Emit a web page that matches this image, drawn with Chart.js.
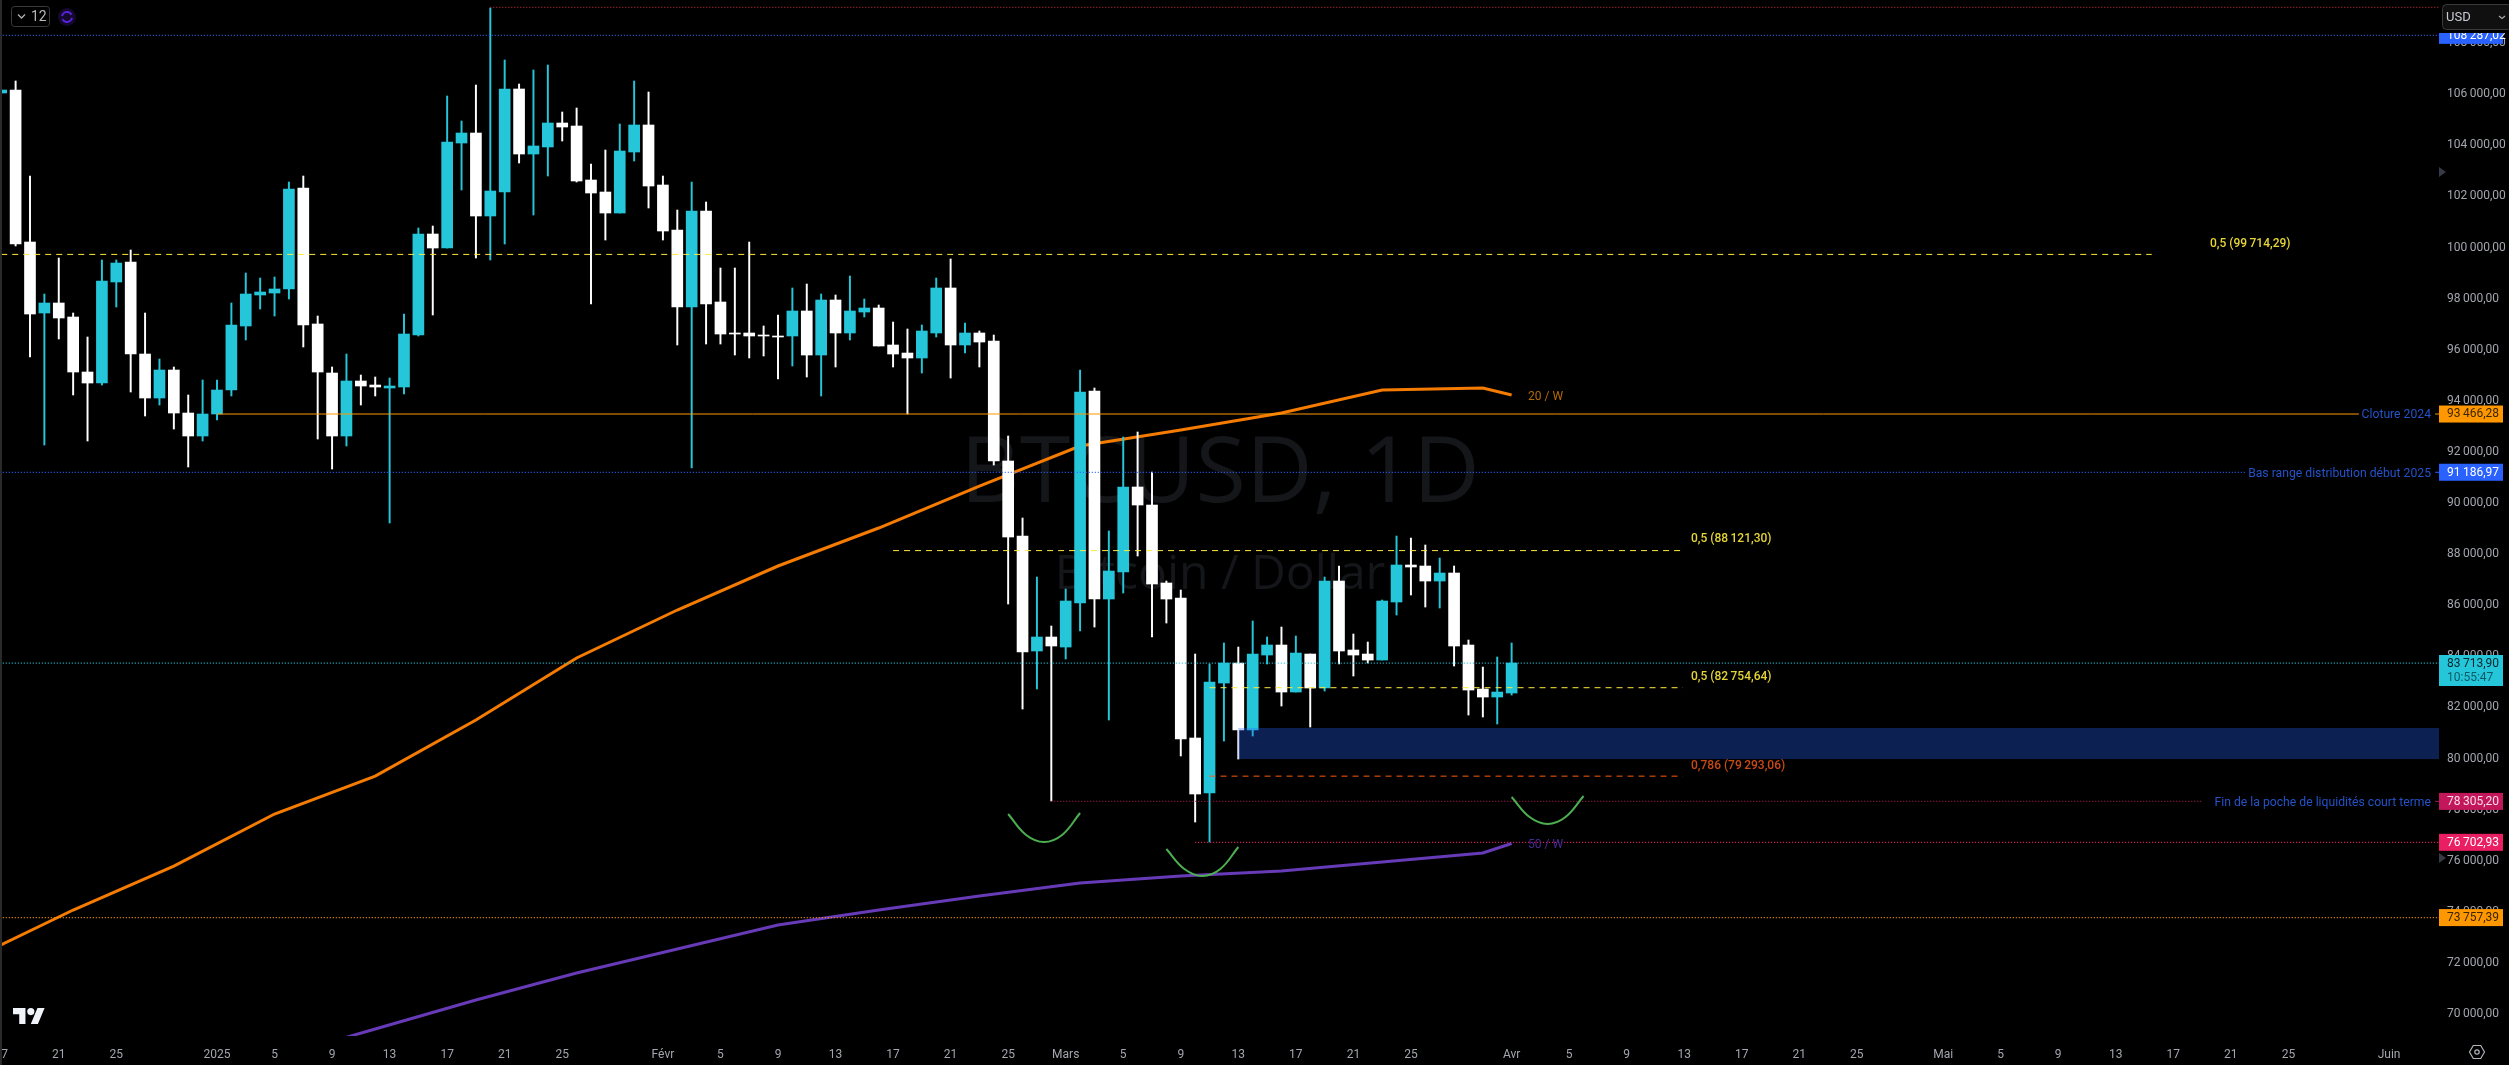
<!DOCTYPE html>
<html lang="fr"><head><meta charset="utf-8"><title>BTCUSD, 1D</title>
<script src="https://cdn.jsdelivr.net/npm/chart.js@4"></script>
<style>html,body{margin:0;padding:0;background:#000;overflow:hidden}#w{position:relative;width:2509px;height:1065px}canvas{display:block}</style>
</head><body><div id="w"><canvas id="c" width="2509" height="1065"></canvas></div>
<script>
// day index: 0 = 1 Jan 2025; one entry per day starting at firstDay
const firstDay = -15;
const ohlcHigh = [
106148,106501,102782,98164,99573,97420,96481,99495,99495,99886,
97420,95620,95307,94211,94798,94798,97812,98986,98790,98829,
102547,102782,97303,95307,95815,94993,94915,94876,97381,100747,
100825,105914,104935,106344,109358,107323,106383,106931,107127,105287,
105444,103252,103800,104818,106501,106070,102782,101451,102547,101765,
99182,99182,100199,96912,97342,98399,98555,98164,98125,98868,
97968,97733,97068,96794,96951,98790,99534,97029,96716,96559,
92606,89396,87087,85169,86617,95189,94485,88888,92567,92763,
91197,86930,86578,84073,83682,84504,84347,85365,84739,85130,
84778,84073,87087,87518,84856,84543,86187,88691,88613,88340,
87830,87518,84621,83564,83956,84504];
const bodyTop = [
106148,106148,100199,97812,97812,97264,95111,98673,99377,99416,
95815,95189,95189,93506,93467,94406,96951,98164,98242,98360,
102273,102313,96990,95072,94759,94759,94602,94563,96598,100512,
100512,104113,104465,104465,102195,106188,106188,103957,104857,104857,
104739,102626,102156,103761,104779,104779,102430,100669,101412,101412,
97851,96638,96638,96559,96520,97499,97499,97929,97929,97499,
97616,97616,96168,95854,96716,98399,98399,96638,96638,96324,
91628,88692,84739,84739,86148,94328,94367,87322,90610,90610,
89905,86853,86265,80786,82977,83721,83721,84073,84426,84426,
84112,84073,86930,86930,84230,84073,86148,87557,87557,87518,
87244,87244,84426,82703,82586,83721];
const bodyBottom = [
106031,100121,97381,97420,97225,95111,94680,94680,98634,95815,
94093,94093,93506,92606,92606,93467,94406,96912,98125,98203,
98360,96951,95111,92606,92606,94563,94524,94485,94524,96559,
99964,99964,104074,101217,101217,102156,103643,103643,103918,104700,
102587,102117,101334,101334,103722,102391,100630,97655,97655,97772,
96598,96598,96520,96520,96481,96520,95776,95776,96638,96638,
97459,96129,95815,95659,95659,96638,96168,96168,96285,91628,
88653,84152,84191,84387,84347,86069,86226,86226,87282,89905,
86813,86226,80747,78594,78633,82938,81099,81099,84034,82586,
82586,82743,82743,84191,84034,83838,83838,86109,87479,86930,
86930,84387,82664,82390,82390,82547];
const ohlcLow = [
106031,100043,95698,92254,96403,94211,92410,94602,97655,94328,
93389,93819,92880,91393,92410,93232,94172,96364,97577,97303,
97968,96090,92488,91314,92215,93819,94172,89201,94250,96520,
97342,99964,102234,99573,99495,100121,103291,101256,102782,104152,
102547,97772,100277,101334,103369,101530,100277,96168,91353,96207,
96207,95776,95659,95737,94837,95346,94915,94172,95307,96364,
97264,96129,95307,93467,95072,96481,94876,95854,95307,91471,
86030,81920,82703,78320,83878,84973,85130,81490,86461,87909,
84739,85287,80082,77498,76715,80668,79963,80864,83682,82038,
82586,81216,82625,83682,83212,83721,83838,85600,86383,85913,
85874,83604,81685,81607,81333,82468];
// days on which the candle closed above its open (cyan); all others are white
const risingDays = [-15,-12,-8,-7,-4,-1,0,1,2,3,4,5,9,12,13,14,16,17,19,20,22,23,28,29,33,40,42,44,45,49,50,52,57,59,60,62,63,69,70,72,73,75,77,81,82,85,89,90];
const maDays = [-17,-10,-3,4,11,18,25,32,39,46,53,60,67,74,81,88,90];
const ma20w = [72151,74054,75775,77811,79298,81490,83917,85796,87518,89005,90649,92215,92841,93506,94406,94485,94211];
const ma50wDays = [4,11,18,25,32,39,46,53,60,67,74,81,88,90];
const ma50w = [68260,69397,70531,71588,72527,73467,74054,74601,75110,75385,75580,75932,76284,76657];
const priceTicks = [70000,72000,74000,76000,78000,80000,82000,84000,86000,88000,90000,92000,94000,96000,98000,100000,102000,104000,106000,108000];
const tickDays = [-15,-11,-7,0,4,8,12,16,20,24,31,35,39,43,47,51,55,59,63,67,71,75,79,83,90,94,98,102,106,110,114,120,124,128,132,136,140,144,151];
const tickLabels = ['17','21','25','2025','5','9','13','17','21','25','Févr','5','9','13','17','21','25','Mars','5','9','13','17','21','25','Avr','5','9','13','17','21','25','Mai','5','9','13','17','21','25','Juin'];
// horizontal levels: value, from day, to day, colour, dash
const levelValues = [109384,108287.02,99714.29,93466.28,91186.97,88121.30,83713.90,82754.64,79293.06,78305.20,76702.93,73757.39,93466.28,91186.97,78305.20];
const levelFrom =   [19,-15.1,-15,0,-15.1,47,-15.1,69,69,58,68,-15.1,154.2,154.2,154.2];
const levelTo =     [154.5,154.5,134.5,148.9,141,101.9,154.5,101.9,101.9,138,154.5,154.5,154.5,154.5,154.5];
const levelColor =  ['#b32a36','#3560e8','#ffeb3b','#ff9800','#2962ff','#ffeb3b','#26c6da','#ffeb3b','#ff5a0a','#a01c48','#f0206a','#ff9800','#ff9800','#2962ff','#a01c48'];
const levelDash =   [[1,2],[1,2],[6,5],[],[1,2],[6,5],[1,2],[6,5],[6,5],[1,2],[1,2],[1,2],[],[],[]];
const arcDays = [[55,56.25,57.5,58.75,60],[66,67.25,68.5,69.75,71],[90,91.25,92.5,93.75,95]];
const arcValues = [[77811,76989,76714,76989,77851],[76442,75659,75385,75659,76520],[78476,77693,77420,77693,78516]];
const zoneDays = [71,154.47];
const zoneValues = [81178,79963];
// price tags
const tagValues = [108287.02,93466.28,91186.97,78305.20,76702.93,73757.39];
const tagTexts = ['108\u2009287,02','93\u2009466,28','91\u2009186,97','78\u2009305,20','76\u2009702,93','73\u2009757,39'];
const tagBg = ['#2962ff','#ff9800','#2962ff','#c2185b','#e91e63','#ff9800'];
const tagFg = ['#ffffff','#3b2500','#ffffff','#f6dbe6','#ffffff','#3b2500'];

const UP='#26c6da', DOWN='#ffffff';
const days = ohlcHigh.map((_,i)=>firstDay+i);
const colours = days.map(d=>risingDays.includes(d)?UP:DOWN);
const fmtTick = v=>{const s=String(v);return s.slice(0,-3)+'\u2009'+s.slice(-3)+',00';};

const datasets = [];
datasets.push({type:'bar',label:'Corps',order:10,grouped:false,barThickness:11,backgroundColor:colours,borderWidth:0,
  data:days.map((d,i)=>({x:d,y:[bodyBottom[i],bodyTop[i]]}))});
datasets.push({type:'bar',label:'Mèches',order:20,grouped:false,barThickness:1.3,backgroundColor:colours,borderWidth:0,
  data:days.map((d,i)=>({x:d,y:[ohlcLow[i],ohlcHigh[i]]}))});
datasets.push({type:'line',label:'20 / W',order:30,borderColor:'#f57c00',borderWidth:3,pointRadius:0,tension:0,
  data:maDays.map((d,i)=>({x:d,y:ma20w[i]}))});
datasets.push({type:'line',label:'50 / W',order:31,borderColor:'#673ab7',borderWidth:3,pointRadius:0,tension:0,
  data:ma50wDays.map((d,i)=>({x:d,y:ma50w[i]}))});
levelValues.forEach((v,i)=>datasets.push({type:'line',label:'niveau '+i,order:5,borderColor:levelColor[i],borderWidth:levelDash[i].length==2&&levelDash[i][0]==1?1.25:1,borderDash:levelDash[i],pointRadius:0,tension:0,
  data:[{x:levelFrom[i],y:v},{x:levelTo[i],y:v}]}));
arcDays.forEach((a,k)=>datasets.push({type:'line',label:'arc '+k,order:4,borderColor:'#4caf50',borderWidth:2,pointRadius:0,tension:0.4,
  data:a.map((d,i)=>({x:d,y:arcValues[k][i]}))}));

const FONT='Roboto';
const chrome = {
  id:'chrome',
  beforeDraw(ch){const c=ch.ctx;c.save();c.fillStyle='#000';c.fillRect(0,0,ch.width,ch.height);c.restore();},
  beforeDatasetsDraw(ch){
    const c=ch.ctx;c.save();c.fillStyle='#14161a';c.textAlign='center';c.textBaseline='middle';
    c.font='92px "Open Sans"';c.fillText('BTCUSD, 1D',1220,476);
    c.font='48px "Open Sans"';c.fillText('Bitcoin / Dollar',1220,575);
    c.restore();
  },
  afterDatasetsDraw(ch){
    const {x,y}=ch.scales,c=ch.ctx;c.save();
    c.fillStyle='rgba(41,98,255,0.32)';
    const X0=x.getPixelForValue(zoneDays[0]),X1=x.getPixelForValue(zoneDays[1]);
    const Y0=y.getPixelForValue(zoneValues[0]),Y1=y.getPixelForValue(zoneValues[1]);
    c.fillRect(X0,Y0,X1-X0,Y1-Y0);
    c.textBaseline='middle';c.textAlign='left';
    const lbl=(t,px,py,col,font)=>{c.font=font||('12px '+FONT);c.fillStyle=col;c.fillText(t,px,py);};
    lbl('0,5 (99\u2009714,29)',2210,243.5,'#e5d536','500 12px '+FONT);
    lbl('0,5 (88\u2009121,30)',1691,538.5,'#e5d536','500 12px '+FONT);
    lbl('0,5 (82\u2009754,64)',1691,676.5,'#e5d536','500 12px '+FONT);
    lbl('0,786 (79\u2009293,06)',1691,765.5,'#c94a12','500 12px '+FONT);
    lbl('20 / W',1528,397,'#b56a05');
    lbl('50 / W',1528,845,'#4a2a96');
    c.textAlign='right';
    lbl('Cloture 2024',2431,415,'#2452c8','12.2px '+FONT);
    lbl('Bas range distribution début 2025',2431,473.5,'#2452c8','12.2px '+FONT);
    lbl('Fin de la poche de liquidités court terme',2431,802.5,'#2452c8','12.2px '+FONT);
    // TradingView logo
    c.translate(13,1004.5);c.scale(.89,.89);c.fillStyle='#f0f3fa';
    c.fill(new Path2D('M14 22H7V11H0V4h14v18zM28 22h-8l7.5-18h8L28 22z'));
    c.beginPath();c.arc(20,8,4,0,Math.PI*2);c.fill();
    c.restore();
  },
  afterDraw(ch){
    const {y}=ch.scales,c=ch.ctx;c.save();
    c.fillStyle='#2a2a2a';c.fillRect(0,0,2,1065);
    c.textBaseline='middle';c.textAlign='left';c.font='12px '+FONT;
    const tag=(v,t,bg,fg)=>{const p=y.getPixelForValue(v);c.fillStyle=bg;c.fillRect(2439,p-8.5,64,17);c.fillStyle=fg;c.fillText(t,2447,p+.3);};
    tagValues.forEach((v,i)=>tag(v,tagTexts[i],tagBg[i],tagFg[i]));
    // live price + countdown
    c.fillStyle='#26c6da';c.fillRect(2439,655,64,31);
    c.fillStyle='#06262b';c.fillText('83\u2009713,90',2447,664);
    c.fillStyle='#0c5a66';c.fillText('10:55:47',2447,678);
    // scale markers
    c.fillStyle='#363a45';
    [[167],[853]].forEach(([t])=>{c.beginPath();c.moveTo(2439,t);c.lineTo(2446,t+5);c.lineTo(2439,t+10);c.closePath();c.fill();});
    // currency button
    c.fillStyle='#000';c.fillRect(2439,0,70,33);
    c.fillStyle='#101010';c.strokeStyle='#3a3a3a';c.beginPath();c.roundRect(2442.5,4.5,70,25,4);c.fill();c.stroke();
    c.fillStyle='#c9ccd4';c.font='13px '+FONT;c.fillText('USD',2446,17.5);
    c.strokeStyle='#aaa';c.lineWidth=1.2;c.beginPath();c.moveTo(2499,16);c.lineTo(2502,18.5);c.lineTo(2505,16);c.stroke();
    // interval button
    c.strokeStyle='#3a3a3a';c.lineWidth=1;c.beginPath();c.roundRect(11.5,6.5,38,20,3);c.stroke();
    c.strokeStyle='#b0b0b0';c.lineWidth=1.3;c.beginPath();c.moveTo(18,14.5);c.lineTo(21.5,18);c.lineTo(25,14.5);c.stroke();
    c.fillStyle='#b8b8b8';c.font='14px '+FONT;c.fillText('12',31,17.5);
    // sync icon
    c.fillStyle='#140a2e';c.beginPath();c.arc(67,17,9,0,Math.PI*2);c.fill();
    c.strokeStyle='#5a22dc';c.lineWidth=2;
    c.beginPath();c.arc(67,17,5,Math.PI*1.05,Math.PI*1.85);c.stroke();
    c.beginPath();c.arc(67,17,5,Math.PI*.05,Math.PI*.85);c.stroke();
    // settings hexagon
    c.strokeStyle='#b0b3ba';c.lineWidth=1.2;c.beginPath();
    for(let i=0;i<6;i++){const a=Math.PI/3*i;const px=2477+7.5*Math.cos(a),py=1052+7.5*Math.sin(a);i?c.lineTo(px,py):c.moveTo(px,py);}
    c.closePath();c.stroke();
    c.beginPath();c.arc(2477,1052,2.2,0,Math.PI*2);c.stroke();
    c.restore();
  }
};

new Chart(document.getElementById('c'),{
  type:'bar',
  data:{datasets},
  plugins:[chrome],
  options:{
    responsive:false,animation:false,events:[],
    layout:{padding:0},
    plugins:{legend:{display:false},tooltip:{enabled:false},title:{display:false}},
    scales:{
      x:{type:'linear',position:'bottom',offset:false,min:-15.085,max:154.47,
        grid:{display:false,drawTicks:false},border:{display:false},
        afterBuildTicks:s=>{s.ticks=tickDays.map(v=>({value:v}));},
        afterFit:s=>{s.height=29;s.paddingLeft=0;s.paddingRight=0;},
        ticks:{autoSkip:false,maxRotation:0,minRotation:0,padding:12,color:'#a3a6af',font:{family:FONT,size:12},
          callback:(v,i)=>tickLabels[i]}},
      y:{type:'linear',position:'right',min:69123,max:109671,
        grid:{display:false,drawTicks:false},border:{display:false},
        afterBuildTicks:s=>{s.ticks=priceTicks.map(v=>({value:v}));},
        afterFit:s=>{s.width=70;s.paddingTop=0;s.paddingBottom=0;},
        ticks:{autoSkip:false,padding:8,crossAlign:'near',color:'#a3a6af',font:{family:FONT,size:12},labelOffset:0.5,
          callback:v=>fmtTick(v)}}
    }
  }
});
</script></body></html>
